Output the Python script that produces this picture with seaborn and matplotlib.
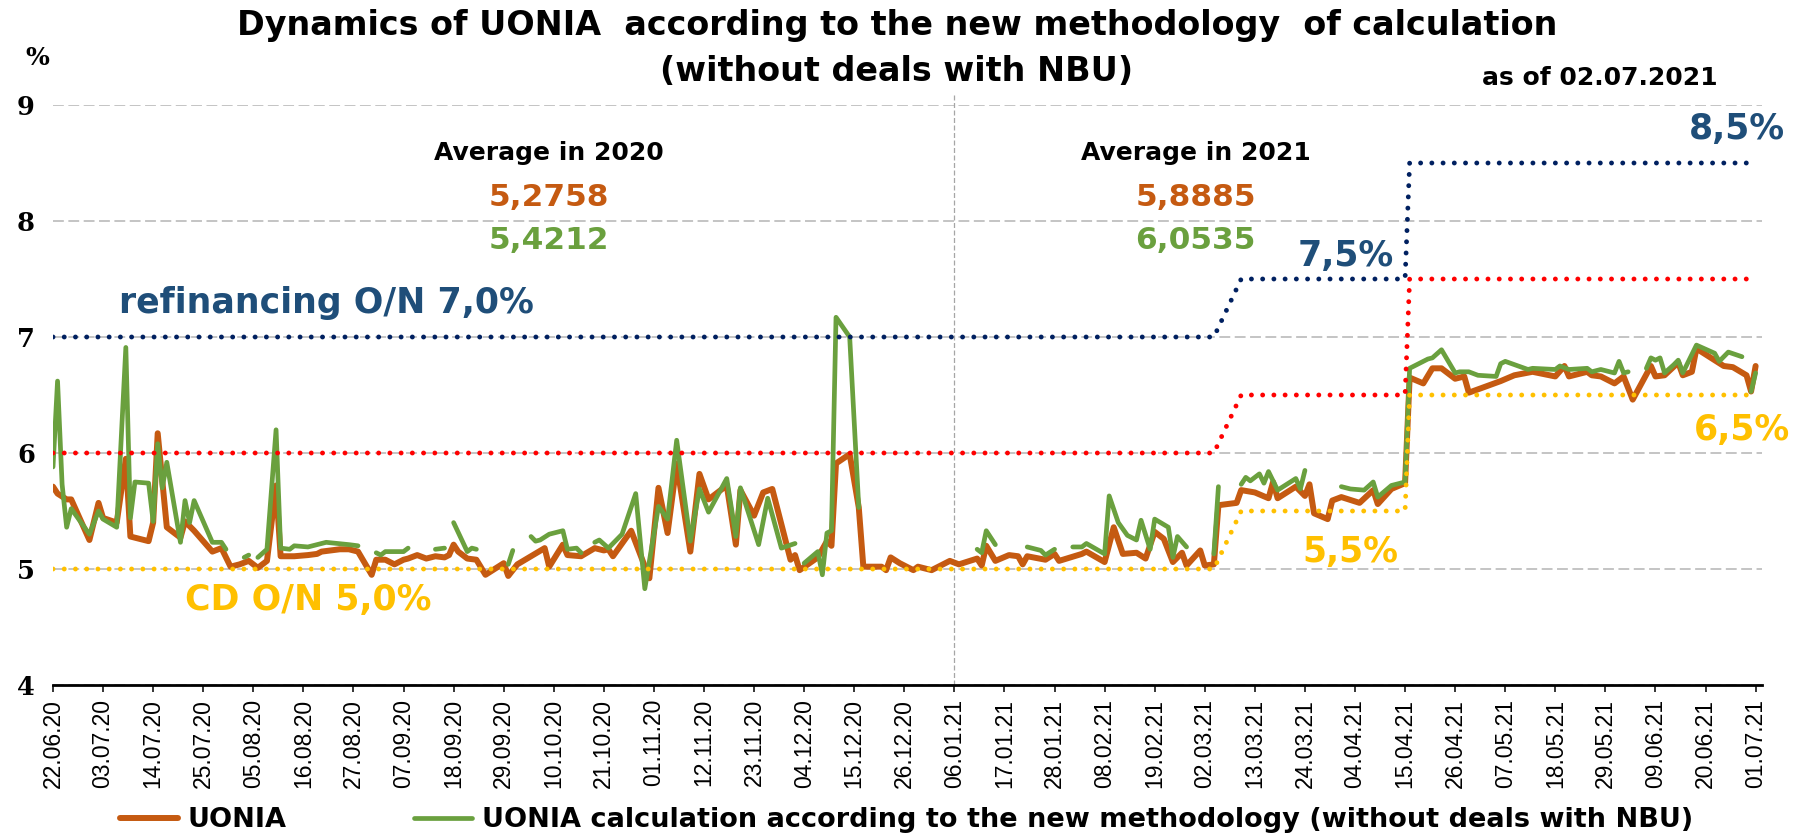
import pandas as pd
import matplotlib
matplotlib.use("Agg")
import matplotlib.pyplot as plt
import matplotlib.dates as mdates
from matplotlib.lines import Line2D
import seaborn as sns

# UONIA
uonia_dates = [
    "22.06.20", "23.06.20", "25.06.20", "26.06.20", "30.06.20", "02.07.20", "03.07.20", "06.07.20",
    "08.07.20", "09.07.20", "13.07.20", "14.07.20", "15.07.20", "17.07.20", "20.07.20", "21.07.20",
    "23.07.20", "27.07.20", "29.07.20", "31.07.20", "02.08.20", "04.08.20", "06.08.20", "08.08.20",
    "10.08.20", "11.08.20", "14.08.20", "17.08.20", "19.08.20", "20.08.20", "24.08.20", "26.08.20",
    "28.08.20", "31.08.20", "01.09.20", "03.09.20", "05.09.20", "07.09.20", "08.09.20", "10.09.20",
    "12.09.20", "14.09.20", "16.09.20", "17.09.20", "18.09.20", "19.09.20", "21.09.20", "23.09.20",
    "25.09.20", "29.09.20", "30.09.20", "02.10.20", "05.10.20", "08.10.20", "09.10.20", "12.10.20",
    "13.10.20", "16.10.20", "19.10.20", "21.10.20", "22.10.20", "23.10.20", "27.10.20", "31.10.20",
    "02.11.20", "04.11.20", "06.11.20", "09.11.20", "11.11.20", "13.11.20", "17.11.20", "19.11.20",
    "20.11.20", "23.11.20", "25.11.20", "27.11.20", "01.12.20", "02.12.20", "03.12.20", "07.12.20",
    "09.12.20", "10.12.20", "11.12.20", "14.12.20", "16.12.20", "17.12.20", "21.12.20", "22.12.20",
    "23.12.20", "25.12.20", "28.12.20", "29.12.20", "01.01.21", "05.01.21", "07.01.21", "11.01.21",
    "12.01.21", "13.01.21", "15.01.21", "18.01.21", "20.01.21", "21.01.21", "22.01.21", "26.01.21",
    "28.01.21", "29.01.21", "03.02.21", "04.02.21", "08.02.21", "10.02.21", "12.02.21", "15.02.21",
    "17.02.21", "19.02.21", "21.02.21", "23.02.21", "25.02.21", "26.02.21", "01.03.21", "02.03.21",
    "04.03.21", "05.03.21", "09.03.21", "10.03.21", "13.03.21", "16.03.21", "17.03.21", "18.03.21",
    "22.03.21", "24.03.21", "25.03.21", "26.03.21", "29.03.21", "30.03.21", "01.04.21", "05.04.21",
    "08.04.21", "09.04.21", "12.04.21", "15.04.21", "16.04.21", "19.04.21", "21.04.21", "23.04.21",
    "26.04.21", "28.04.21", "29.04.21", "06.05.21", "09.05.21", "13.05.21", "18.05.21", "20.05.21",
    "21.05.21", "25.05.21", "26.05.21", "28.05.21", "31.05.21", "02.06.21", "04.06.21", "08.06.21",
    "09.06.21", "11.06.21", "14.06.21", "15.06.21", "17.06.21", "18.06.21", "22.06.21", "24.06.21",
    "26.06.21", "29.06.21", "30.06.21", "01.07.21",
]
uonia_values = [
    5.71, 5.65, 5.60, 5.60, 5.25, 5.57, 5.44, 5.40,
    5.95, 5.28, 5.24, 5.40, 6.17, 5.36, 5.27, 5.41,
    5.33, 5.15, 5.18, 5.02, 5.04, 5.07, 5.01, 5.07,
    5.72, 5.11, 5.11, 5.12, 5.13, 5.15, 5.17, 5.17,
    5.15, 4.95, 5.08, 5.08, 5.04, 5.08, 5.09, 5.12,
    5.09, 5.11, 5.10, 5.12, 5.21, 5.15, 5.09, 5.08,
    4.95, 5.05, 4.94, 5.04, 5.11, 5.18, 5.02, 5.21,
    5.12, 5.11, 5.18, 5.16, 5.17, 5.11, 5.33, 4.92,
    5.70, 5.31, 5.91, 5.15, 5.82, 5.60, 5.72, 5.21,
    5.68, 5.46, 5.66, 5.69, 5.08, 5.12, 4.99, 5.10,
    5.24, 5.20, 5.91, 5.99, 5.53, 5.02, 5.02, 4.99,
    5.10, 5.05, 4.99, 5.02, 4.99, 5.07, 5.04, 5.09,
    5.03, 5.20, 5.07, 5.12, 5.11, 5.04, 5.11, 5.08,
    5.13, 5.07, 5.13, 5.15, 5.06, 5.36, 5.13, 5.14,
    5.09, 5.32, 5.26, 5.06, 5.14, 5.03, 5.16, 5.03,
    5.04, 5.55, 5.57, 5.68, 5.66, 5.61, 5.75, 5.61,
    5.71, 5.63, 5.73, 5.48, 5.43, 5.59, 5.62, 5.57,
    5.68, 5.56, 5.69, 5.74, 6.65, 6.60, 6.73, 6.73,
    6.64, 6.66, 6.52, 6.62, 6.67, 6.70, 6.66, 6.75,
    6.66, 6.70, 6.67, 6.66, 6.60, 6.66, 6.46, 6.75,
    6.66, 6.67, 6.78, 6.67, 6.70, 6.90, 6.80, 6.75,
    6.74, 6.67, 6.53, 6.75,
]

# new methodology (without deals with NBU); None = no value, the line breaks
new_dates = [
    "22.06.20", "23.06.20", "24.06.20", "25.06.20", "26.06.20", "30.06.20", "02.07.20", "03.07.20",
    "06.07.20", "08.07.20", "09.07.20", "10.07.20", "13.07.20", "14.07.20", "15.07.20", "16.07.20",
    "17.07.20", "20.07.20", "21.07.20", "22.07.20", "23.07.20", "27.07.20", "29.07.20", "30.07.20",
    "31.07.20", "03.08.20", "04.08.20", "05.08.20", "06.08.20", "08.08.20", "10.08.20", "11.08.20",
    "13.08.20", "14.08.20", "17.08.20", "21.08.20", "26.08.20", "28.08.20", "29.08.20", "01.09.20",
    "02.09.20", "03.09.20", "07.09.20", "08.09.20", "09.09.20", "14.09.20", "16.09.20", "17.09.20",
    "18.09.20", "21.09.20", "22.09.20", "23.09.20", "24.09.20", "30.09.20", "01.10.20", "02.10.20",
    "05.10.20", "06.10.20", "07.10.20", "09.10.20", "12.10.20", "13.10.20", "15.10.20", "16.10.20",
    "17.10.20", "19.10.20", "20.10.20", "22.10.20", "25.10.20", "28.10.20", "30.10.20", "02.11.20",
    "04.11.20", "06.11.20", "09.11.20", "11.11.20", "13.11.20", "17.11.20", "19.11.20", "20.11.20",
    "24.11.20", "26.11.20", "29.11.20", "02.12.20", "03.12.20", "04.12.20", "07.12.20", "08.12.20",
    "09.12.20", "10.12.20", "11.12.20", "14.12.20", "16.12.20", "17.12.20", "11.01.21", "12.01.21",
    "13.01.21", "15.01.21", "16.01.21", "22.01.21", "25.01.21", "26.01.21", "28.01.21", "29.01.21",
    "01.02.21", "03.02.21", "04.02.21", "08.02.21", "09.02.21", "11.02.21", "13.02.21", "15.02.21",
    "16.02.21", "18.02.21", "19.02.21", "22.02.21", "23.02.21", "24.02.21", "26.02.21", "27.02.21",
    "04.03.21", "05.03.21", "06.03.21", "10.03.21", "11.03.21", "12.03.21", "14.03.21", "15.03.21",
    "16.03.21", "18.03.21", "22.03.21", "23.03.21", "24.03.21", "25.03.21", "01.04.21", "03.04.21",
    "06.04.21", "08.04.21", "09.04.21", "12.04.21", "15.04.21", "16.04.21", "18.04.21", "20.04.21",
    "21.04.21", "23.04.21", "26.04.21", "27.04.21", "29.04.21", "01.05.21", "05.05.21", "06.05.21",
    "07.05.21", "12.05.21", "13.05.21", "18.05.21", "19.05.21", "21.05.21", "25.05.21", "26.05.21",
    "28.05.21", "31.05.21", "01.06.21", "02.06.21", "03.06.21", "04.06.21", "07.06.21", "08.06.21",
    "09.06.21", "10.06.21", "11.06.21", "13.06.21", "14.06.21", "15.06.21", "18.06.21", "22.06.21",
    "23.06.21", "25.06.21", "28.06.21", "29.06.21", "30.06.21", "01.07.21",
]
new_values = [
    5.88, 6.62, 5.73, 5.36, 5.52, 5.30, 5.50, 5.43,
    5.36, 6.91, 5.44, 5.75, 5.74, 5.41, 6.08, 5.70,
    5.92, 5.23, 5.59, 5.40, 5.59, 5.23, 5.23, 5.17,
    None, 5.10, 5.12, None, 5.10, 5.17, 6.20, 5.18,
    5.17, 5.20, 5.19, 5.23, 5.21, 5.20, None, 5.14,
    5.12, 5.15, 5.15, 5.18, None, 5.17, 5.18, None,
    5.40, 5.15, 5.18, 5.17, None, 5.04, 5.16, None,
    5.28, 5.24, 5.25, 5.30, 5.33, 5.17, 5.18, 5.14,
    None, 5.23, 5.25, 5.18, 5.30, 5.65, 4.83, 5.54,
    5.43, 6.11, 5.24, 5.69, 5.49, 5.78, 5.28, 5.70,
    5.21, 5.61, 5.18, 5.22, None, 5.05, 5.15, 4.95,
    5.31, 5.33, 7.17, 7.00, 5.53, None, 5.17, 5.14,
    5.33, 5.21, None, 5.19, 5.16, 5.12, 5.17, None,
    5.19, 5.19, 5.22, 5.13, 5.63, 5.40, 5.29, 5.25,
    5.42, 5.17, 5.43, 5.36, 5.10, 5.28, 5.19, None,
    5.13, 5.71, None, 5.73, 5.79, 5.76, 5.82, 5.74,
    5.84, 5.68, 5.78, 5.69, 5.85, None, 5.71, 5.69,
    5.68, 5.75, 5.62, 5.72, 5.75, 6.73, 6.77, 6.81,
    6.82, 6.89, 6.69, 6.70, 6.70, 6.67, 6.66, 6.77,
    6.79, 6.72, 6.73, 6.72, 6.75, 6.72, 6.73, 6.70,
    6.72, 6.69, 6.79, 6.69, 6.70, None, 6.73, 6.82,
    6.80, 6.82, 6.69, 6.76, 6.80, 6.69, 6.93, 6.86,
    6.79, 6.87, 6.83, None, 6.53, 6.69,
]

# NBU corridor
rate_dates = ["22.06.20", "04.03.21", "10.03.21", "15.04.21", "16.04.21", "01.07.21"]
refinancing_on = [7.0, 7.0, 7.5, 7.5, 8.5, 8.5]
key_rate = [6.0, 6.0, 6.5, 6.5, 7.5, 7.5]
cd_on = [5.0, 5.0, 5.5, 5.5, 6.5, 6.5]

avg_2020 = ["5,2758", "5,4212"]
avg_2021 = ["5,8885", "6,0535"]

ORANGE = "#C55A11"
GREEN = "#6AA03E"
NAVY = "#002060"
BLUE_TXT = "#1F4E79"
RED = "#FF0000"
YELLOW = "#FFC000"


def to_dt(lst):
    return pd.to_datetime(pd.Series(lst), format="%d.%m.%y")


uonia = pd.DataFrame({"date": to_dt(uonia_dates), "rate": uonia_values})
new = pd.DataFrame({"date": to_dt(new_dates), "rate": pd.array(new_values, dtype="Float64")})
new["rate"] = new["rate"].astype(float)
new["seg"] = new["rate"].isna().cumsum()
new = new.dropna()
rates = pd.DataFrame({"date": to_dt(rate_dates), "refin": refinancing_on,
                      "key": key_rate, "cd": cd_on})

sns.set_style("white")
plt.rcParams["font.family"] = ["DejaVu Sans"]
plt.rcParams["text.color"] = "black"
plt.rcParams["xtick.color"] = "black"
plt.rcParams["ytick.color"] = "black"

fig = plt.figure(figsize=(17.94, 8.33), dpi=100)
ax = fig.add_axes([0.02954, 0.17767, 0.95262, 0.69628])

sns.lineplot(data=uonia, x="date", y="rate", color=ORANGE, lw=4.3, ax=ax,
             zorder=3, legend=False)
sns.lineplot(data=new, x="date", y="rate", units="seg", estimator=None,
             color=GREEN, lw=3.4, ax=ax, zorder=4, legend=False)
for col, c in [("refin", NAVY), ("key", RED), ("cd", YELLOW)]:
    sns.lineplot(data=rates, x="date", y=col, color=c, lw=3.5, estimator=None,
                 linestyle=(0, (0.01, 2.3)), dash_capstyle="round", ax=ax,
                 zorder=5, legend=False)

start = pd.Timestamp("2020-06-22")
ax.set_xlim(start, start + pd.Timedelta(days=375.4))
ax.set_ylim(4, 9)
ax.set_xticks(pd.date_range(start, periods=35, freq="11D"))
ax.xaxis.set_major_formatter(mdates.DateFormatter("%d.%m.%y"))
ax.set_yticks([4, 5, 6, 7, 8, 9])
ax.set_xlabel("")
ax.set_ylabel("")

ax.yaxis.grid(True, color="#BFBFBF", linestyle=(0, (6, 2.5)), linewidth=1.3)
ax.xaxis.grid(False)
ax.set_axisbelow(True)
for s in ["left", "right", "top"]:
    ax.spines[s].set_visible(False)
ax.spines["bottom"].set_color("black")
ax.spines["bottom"].set_linewidth(2)
ax.spines["bottom"].set_zorder(6)

ax.tick_params(axis="x", bottom=True, length=5, width=1.1, direction="out",
               pad=5, labelsize=16.5, labelrotation=90, colors="black")
ax.tick_params(axis="y", left=False, length=0, pad=13, labelsize=18.5, colors="black")
for lbl in ax.get_xticklabels():
    lbl.set_fontfamily("Liberation Sans")
for lbl in ax.get_yticklabels():
    lbl.set_fontfamily("DejaVu Serif")
    lbl.set_fontweight("bold")

ax.axvline(pd.Timestamp("2021-01-06"), ymin=0, ymax=1.021, color="#A6A6A6",
           lw=0.9, linestyle=(0, (4, 2)), clip_on=False, zorder=1)

# titles
fig.text(0.5, 1 - 35 / 833, "Dynamics of UONIA  according to the new methodology  of calculation",
         ha="center", va="baseline", fontsize=24, fontweight="bold", color="black")
fig.text(0.5, 1 - 81 / 833, "(without deals with NBU)",
         ha="center", va="baseline", fontsize=24, fontweight="bold", color="black")
fig.text(1718 / 1794, 1 - 85 / 833, "as of 02.07.2021", ha="right", va="baseline",
         fontsize=18, fontweight="bold", color="black")
fig.text(37 / 1794, 1 - 58 / 833, "%", ha="center", va="center", fontsize=18,
         fontweight="bold", family="DejaVu Serif", color="black")


def dt(s):
    return pd.Timestamp(pd.to_datetime(s, format="%d.%m.%y"))


kw = dict(ha="center", va="baseline", fontweight="bold")
ax.text(dt("09.10.20"), 8.53, "Average in 2020", fontsize=18, color="black", **kw)
ax.text(dt("09.10.20"), 8.13, avg_2020[0], fontsize=22.5, color=ORANGE, **kw)
ax.text(dt("09.10.20"), 7.76, avg_2020[1], fontsize=22.5, color=GREEN, **kw)
ax.text(dt("28.02.21"), 8.53, "Average in 2021", fontsize=18, color="black", **kw)
ax.text(dt("28.02.21"), 8.13, avg_2021[0], fontsize=22.5, color=ORANGE, **kw)
ax.text(dt("28.02.21"), 7.76, avg_2021[1], fontsize=22.5, color=GREEN, **kw)

ax.text(dt("21.08.20"), 7.21, "refinancing O/N 7,0%", fontsize=25, color=BLUE_TXT, **kw)
ax.text(dt("17.08.20"), 4.65, "CD O/N 5,0%", fontsize=25, color=YELLOW, **kw)
ax.text(dt("02.04.21"), 7.61, "7,5%", fontsize=25, color=BLUE_TXT, **kw)
ax.text(dt("27.06.21"), 8.71, "8,5%", fontsize=25, color=BLUE_TXT, **kw)
ax.text(dt("03.04.21"), 5.06, "5,5%", fontsize=25, color=YELLOW, **kw)
ax.text(dt("28.06.21"), 6.11, "6,5%", fontsize=25, color=YELLOW, **kw)

handles = [Line2D([], [], color=ORANGE, lw=4.3, solid_capstyle="round"),
           Line2D([], [], color=GREEN, lw=3.4, solid_capstyle="round")]
labels = ["UONIA",
          "UONIA calculation according to the new methodology (without deals with NBU)"]
fig.legend(handles, labels, loc="center left", bbox_to_anchor=(120 / 1794, 1 - 820 / 833),
           ncol=2, frameon=False, prop={"weight": "bold", "size": 19.5},
           handlelength=2.15, handletextpad=0.35, columnspacing=4.7,
           borderpad=0, borderaxespad=0)

fig.savefig("out.png", dpi=100)
